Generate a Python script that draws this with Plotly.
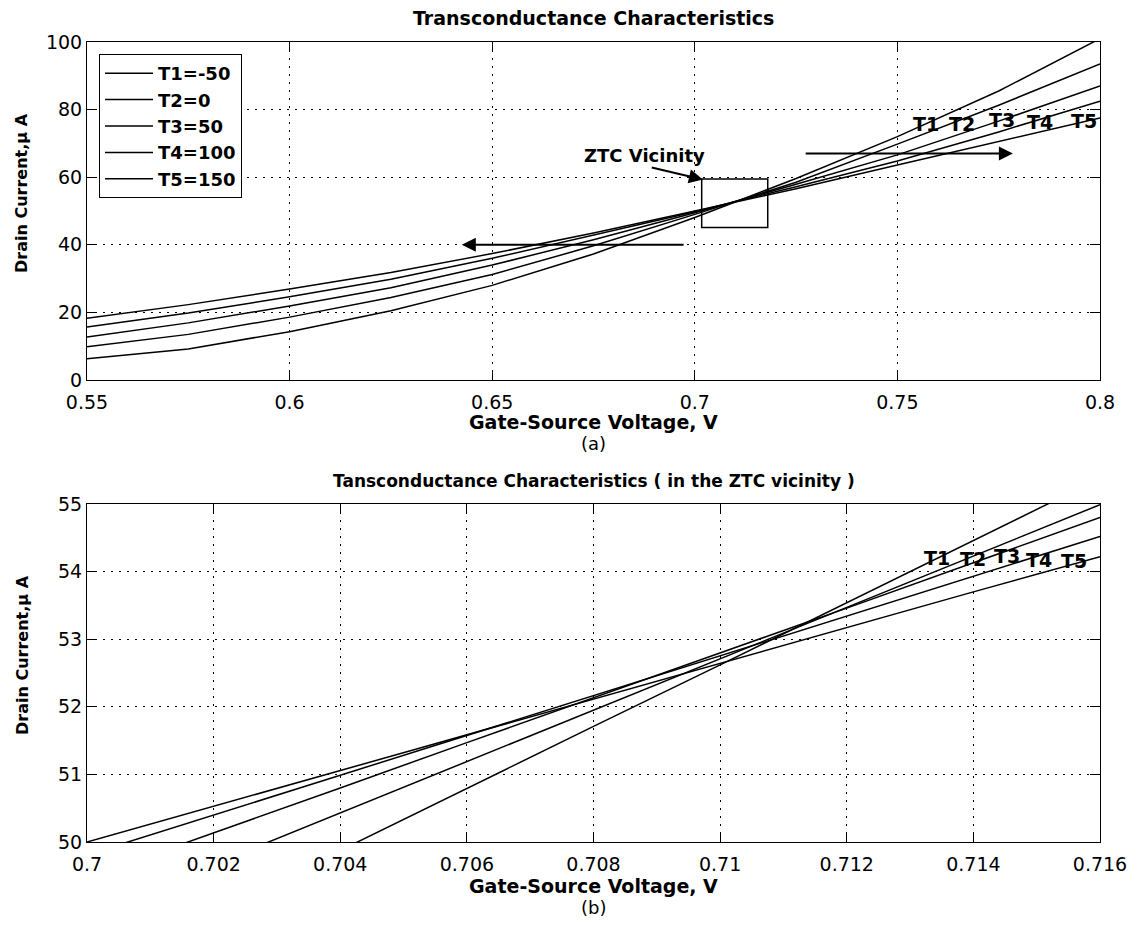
import plotly.graph_objects as go

# ---------------- data ----------------
names = ["T1=-50", "T2=0", "T3=50", "T4=100", "T5=150"]
short = ["T1", "T2", "T3", "T4", "T5"]

vgs_a = [0.55, 0.575, 0.6, 0.625, 0.65, 0.675, 0.7, 0.725, 0.75, 0.775, 0.8]
id_a_T1 = [6.3, 9.2, 14.3, 20.5, 28.0, 37.3, 48.1, 59.6, 72.0, 85.5, 101.0]
id_a_T2 = [9.8, 13.5, 18.6, 24.4, 31.2, 39.7, 49.0, 58.5, 69.8, 81.3, 93.5]
id_a_T3 = [12.7, 16.9, 21.9, 27.3, 34.0, 41.5, 49.5, 57.9, 66.6, 76.6, 87.0]
id_a_T4 = [15.7, 19.8, 24.6, 29.8, 36.0, 42.8, 49.8, 57.2, 64.8, 73.4, 82.5]
id_a_T5 = [18.3, 22.3, 26.9, 31.8, 37.4, 43.5, 50.0, 56.6, 63.6, 70.5, 77.5]

vgs_b = [0.700, 0.702, 0.704, 0.706, 0.708, 0.710, 0.712, 0.714, 0.716]
id_b_T1 = [48.04, 48.96, 49.88, 50.80, 51.71, 52.62, 53.54, 54.46, 55.38]
id_b_T2 = [48.91, 49.67, 50.43, 51.19, 51.95, 52.71, 53.47, 54.23, 54.99]
id_b_T3 = [49.47, 50.13, 50.80, 51.47, 52.13, 52.80, 53.46, 54.13, 54.80]
id_b_T4 = [49.81, 50.40, 50.98, 51.57, 52.16, 52.75, 53.34, 53.93, 54.52]
id_b_T5 = [50.00, 50.53, 51.06, 51.58, 52.11, 52.64, 53.17, 53.70, 54.22]

xt_a = [0.55, 0.6, 0.65, 0.7, 0.75, 0.8]
xt_a_txt = ["0.55", "0.6", "0.65", "0.7", "0.75", "0.8"]
yt_a = [0, 20, 40, 60, 80, 100]
xt_b = [0.7, 0.702, 0.704, 0.706, 0.708, 0.71, 0.712, 0.714, 0.716]
xt_b_txt = ["0.7", "0.702", "0.704", "0.706", "0.708", "0.71", "0.712", "0.714", "0.716"]
yt_b = [50, 51, 52, 53, 54, 55]

# label positions (data coords)
lab_a_x = [0.7571, 0.7659, 0.7758, 0.7852, 0.7961]
lab_a_y = [75.7, 75.7, 76.9, 76.3, 76.5]
lab_b_x = [0.71343, 0.71400, 0.71453, 0.71504, 0.71559]
lab_b_y = [54.20, 54.19, 54.23, 54.17, 54.16]

series_a = [id_a_T1, id_a_T2, id_a_T3, id_a_T4, id_a_T5]
series_b = [id_b_T1, id_b_T2, id_b_T3, id_b_T4, id_b_T5]

FONT = "DejaVu Sans"
BOLD = "<b>%s</b>"

fig = go.Figure()
for n, ys in zip(names, series_a):
    fig.add_trace(go.Scatter(x=vgs_a, y=ys, mode="lines", name=BOLD % n,
                             line=dict(color="black", width=1.5),
                             xaxis="x", yaxis="y", showlegend=True))
for n, ys in zip(names, series_b):
    fig.add_trace(go.Scatter(x=vgs_b, y=ys, mode="lines", name=n,
                             line=dict(color="black", width=1.5),
                             xaxis="x2", yaxis="y2", showlegend=False))

L, R, T, B = 87, 41, 42, 84
W, H = 1141, 926
PH = H - T - B  # 800
def py(p):  # pixel y -> paper y
    return (H - B - p) / PH
def px(p):
    return (p - L) / (W - L - R)

axis_common = dict(showline=True, linecolor="black", linewidth=1, mirror="ticks",
                   ticks="inside", ticklen=10, tickcolor="black", tickwidth=1,
                   showgrid=True, gridcolor="black", gridwidth=1, griddash="2px,6px",
                   zeroline=False, tickfont=dict(family=FONT, size=19, color="black"))

fig.update_layout(
    width=W, height=H, margin=dict(l=L, r=R, t=T, b=B),
    plot_bgcolor="white", paper_bgcolor="white",
    font=dict(family=FONT, color="black"),
    xaxis=dict(domain=[0, 1], anchor="y", range=[0.55, 0.8], tickvals=xt_a, ticktext=xt_a_txt,
               ticklabelstandoff=5, **axis_common),
    yaxis=dict(domain=[py(380), 1], anchor="x", range=[0, 100], tickvals=yt_a, **axis_common),
    xaxis2=dict(domain=[0, 1], anchor="y2", range=[0.7, 0.716], tickvals=xt_b, ticktext=xt_b_txt,
                ticklabelstandoff=5, **axis_common),
    yaxis2=dict(domain=[0, py(504)], anchor="x2", range=[50, 55], tickvals=yt_b, **axis_common),
    legend=dict(x=px(99), y=py(54), xanchor="left", yanchor="top", bgcolor="white",
                bordercolor="black", borderwidth=1, font=dict(family=FONT, size=18, color="black"),
                tracegroupgap=0, itemwidth=48),
    showlegend=True,
)

ann = []
def txt(x, y, s, size=18, bold=True, angle=0, xref="paper", yref="paper"):
    ann.append(dict(x=x, y=y, xref=xref, yref=yref, text=(BOLD % s) if bold else s,
                    showarrow=False, textangle=angle, xanchor="center", yanchor="middle",
                    font=dict(family=FONT, size=size, color="black")))

txt(0.5, py(18), "Transconductance Characteristics", size=19)
txt(0.5, py(481), "Tansconductance Characteristics ( in the ZTC vicinity )", size=17)
txt(0.5, py(422), "Gate-Source Voltage, V", size=19)
txt(0.5, py(443), "(a)", size=18, bold=False)
txt(0.5, py(886), "Gate-Source Voltage, V", size=19)
txt(0.5, py(907), "(b)", size=18, bold=False)
txt(px(22), py(193), "Drain Current,μ A", size=16, angle=-90)
txt(px(22), py(655), "Drain Current,μ A", size=16, angle=-90)
txt(0.6877, 66.3, "ZTC Vicinity", xref="x", yref="y")
for s, x, y in zip(short, lab_a_x, lab_a_y):
    txt(x, y, s, size=19, xref="x", yref="y")
for s, x, y in zip(short, lab_b_x, lab_b_y):
    txt(x, y, s, size=19, xref="x2", yref="y2")

def arrow(x0, y0, x1, y1, xr="x", yr="y"):
    ann.append(dict(x=x1, y=y1, ax=x0, ay=y0, xref=xr, yref=yr, axref=xr, ayref=yr,
                    text="", showarrow=True, arrowhead=2, arrowsize=1.4, arrowwidth=2,
                    arrowcolor="black", standoff=0, startstandoff=0))

arrow(0.6890, 63.0, 0.7020, 59.3)
arrow(0.6976, 40.0, 0.6425, 40.0)
arrow(0.7270, 67.0, 0.7785, 67.0)
fig.update_layout(annotations=ann)

fig.add_shape(type="rect", xref="x", yref="y", x0=0.7017, x1=0.7180, y0=45.1, y1=59.5,
              line=dict(color="black", width=1.5))

fig.write_html("out.html")
